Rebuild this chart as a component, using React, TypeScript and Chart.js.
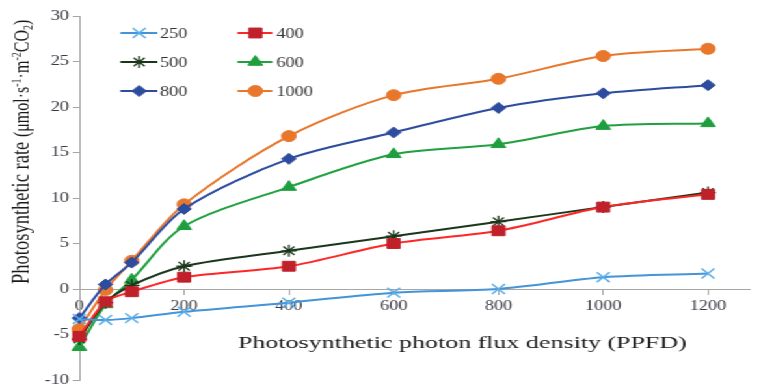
import React, { useEffect, useRef } from "react";
import { Chart, registerables } from "chart.js";
import { drawPoint } from "chart.js/helpers";

Chart.register(...registerables);

const xValues = [0, 50, 100, 200, 400, 600, 800, 1000, 1200];
const xTickValues = [0, 200, 400, 600, 800, 1000, 1200];
const yTickStep = 5;
const seriesNames = ["250", "400", "500", "600", "800", "1000"];
const s250 = [-3.3, -3.4, -3.2, -2.5, -1.5, -0.4, 0.0, 1.3, 1.7];
const s400 = [-5.2, -1.4, -0.3, 1.3, 2.5, 5.0, 6.4, 9.0, 10.4];
const s500 = [-5.5, -1.5, 0.4, 2.5, 4.2, 5.8, 7.4, 9.0, 10.6];
const s600 = [-6.4, -1.7, 1.0, 6.9, 11.2, 14.8, 15.9, 17.9, 18.2];
const s800 = [-3.2, 0.5, 2.9, 8.8, 14.3, 17.2, 19.9, 21.5, 22.4];
const s1000 = [-4.4, -0.1, 3.1, 9.3, 16.8, 21.3, 23.1, 25.6, 26.4];
const xTitle = "Photosynthetic photon flux density (PPFD)";
const yTitleSegs = [
  { t: "Photosynthetic rate ", size: 18.5, dy: 0 },
  { t: "(μmol·s", size: 16, dy: 0 },
  { t: "-1", size: 10, dy: -6 },
  { t: "·m", size: 16, dy: 0 },
  { t: "-2", size: 10, dy: -6 },
  { t: "CO", size: 16, dy: 0 },
  { t: "2", size: 10, dy: 3 },
  { t: ")", size: 16, dy: 0 },
];

const W = 585;
const H = 392;
const STRETCH = 761 / 585;
const FONT = '"Liberation Serif", "Times New Roman", serif';

const styles = [
  { line: "#4394D8", point: "#5AAEEA", style: "crossRot", r: 7, bw: 1.5 },
  { line: "#FF2626", point: "#C0202A", style: "rect", r: 7, bw: 1 },
  { line: "#1B361B", point: "#1B361B", style: "star", r: 6, bw: 1.3 },
  { line: "#20A040", point: "#1E9E3E", style: "triangle", r: 6.5, bw: 1 },
  { line: "#2D4C9E", point: "#2D4C9E", style: "rectRot", r: 5.5, bw: 1 },
  { line: "#E8772C", point: "#E8772C", style: "circle", r: 5.5, bw: 1 },
];

const allSeries = [s250, s400, s500, s600, s800, s1000];

const customPlugin = {
  id: "customDecor",
  afterDraw(chart: any) {
    const { ctx, chartArea } = chart;
    const yZero = chart.scales.y.getPixelForValue(0);
    const rowY = [17, 46, 75];
    const cols = [
      { l0: 31.5, l1: 60, m: 46, t: 62 },
      { l0: 121.5, l1: 148.4, m: 135.3, t: 151.5 },
    ];
    seriesNames.forEach((name, i) => {
      const c = cols[i % 2];
      const y = chartArea.top + rowY[Math.floor(i / 2)];
      const st = styles[i];
      ctx.save();
      ctx.strokeStyle = st.line;
      ctx.lineWidth = 2;
      ctx.beginPath();
      ctx.moveTo(chartArea.left + c.l0, y);
      ctx.lineTo(chartArea.left + c.l1, y);
      ctx.stroke();
      ctx.fillStyle = st.point;
      ctx.strokeStyle = st.point;
      ctx.lineWidth = st.bw;
      drawPoint(ctx, { pointStyle: st.style, radius: st.r, borderWidth: st.bw, rotation: 0 } as any, chartArea.left + c.m, y);
      ctx.fillStyle = "#333";
      ctx.font = `14px ${FONT}`;
      ctx.textBaseline = "middle";
      ctx.textAlign = "left";
      ctx.fillText(name, chartArea.left + c.t, y + 1);
      ctx.restore();
    });
    // x title, fitted to its width in the original
    ctx.save();
    ctx.font = `16px ${FONT}`;
    ctx.fillStyle = "#1a1a1a";
    ctx.textAlign = "left";
    ctx.textBaseline = "alphabetic";
    const targetW = 345;
    const natW = ctx.measureText(xTitle).width;
    ctx.translate(chartArea.left + 122, yZero + 59);
    ctx.scale(targetW / natW, 1);
    ctx.fillText(xTitle, 0, 0);
    ctx.restore();
    // y title (rotated)
    ctx.save();
    ctx.translate(22, chartArea.top + 268);
    ctx.rotate(-Math.PI / 2);
    ctx.fillStyle = "#1a1a1a";
    ctx.textAlign = "left";
    ctx.textBaseline = "alphabetic";
    let x = 0;
    yTitleSegs.forEach((s) => {
      ctx.font = `${s.size}px ${FONT}`;
      ctx.fillText(s.t, x, s.dy);
      x += ctx.measureText(s.t).width;
    });
    ctx.restore();
  },
};

export default function App() {
  const ref = useRef<HTMLCanvasElement>(null);
  useEffect(() => {
    if (!ref.current) return;
    const datasets = allSeries.map((vals, i) => ({
      label: seriesNames[i],
      data: xValues.map((x, j) => ({ x, y: vals[j] })),
      borderColor: styles[i].line,
      backgroundColor: styles[i].point,
      borderWidth: 2,
      pointStyle: styles[i].style as any,
      pointRadius: styles[i].r,
      pointBorderColor: styles[i].point,
      pointBackgroundColor: styles[i].point,
      pointBorderWidth: styles[i].bw,
      tension: 0.3,
      fill: false,
      clip: false as any,
    }));
    const chart = new Chart(ref.current, {
      type: "line",
      data: { datasets },
      options: {
        animation: false,
        responsive: false,
        devicePixelRatio: 1,
        layout: { padding: { top: 16, bottom: 12, left: 0, right: 0 } },
        plugins: {
          legend: { display: false },
          title: { display: false },
          tooltip: { enabled: false },
        },
        scales: {
          x: {
            type: "linear",
            min: 0,
            max: 1280,
            position: { y: 0 } as any,
            afterBuildTicks: (s: any) => {
              s.ticks = xTickValues.map((v) => ({ value: v }));
            },
            grid: { display: true, drawOnChartArea: false, drawTicks: true, tickLength: 5, color: "#A6A6A6" },
            border: { display: true, color: "#A6A6A6", width: 1 },
            ticks: {
              font: { family: FONT, size: 14 },
              color: "#3a3a44",
              padding: 4,
              maxRotation: 0,
              autoSkip: false,
              callback: (v: any) => String(v),
            },
          },
          y: {
            type: "linear",
            min: -10,
            max: 30,
            afterFit: (s: any) => {
              s.width = 61;
            },
            grid: { display: true, drawOnChartArea: false, drawTicks: true, tickLength: 5, color: "#A6A6A6" },
            border: { display: true, color: "#A6A6A6", width: 1 },
            ticks: {
              stepSize: yTickStep,
              font: { family: FONT, size: 14 },
              color: "#3a3a44",
              padding: 3,
              callback: (v: any) => String(v),
            },
          },
        },
      },
      plugins: [customPlugin],
    });
    return () => chart.destroy();
  }, []);
  return (
    <div
      style={{
        position: "fixed",
        left: 0,
        top: 0,
        width: W,
        height: H,
        transform: `scaleX(${STRETCH})`,
        transformOrigin: "0 0",
        background: "#fff",
      }}
    >
      <canvas ref={ref} width={W} height={H} style={{ display: "block", width: W, height: H }} />
    </div>
  );
}
